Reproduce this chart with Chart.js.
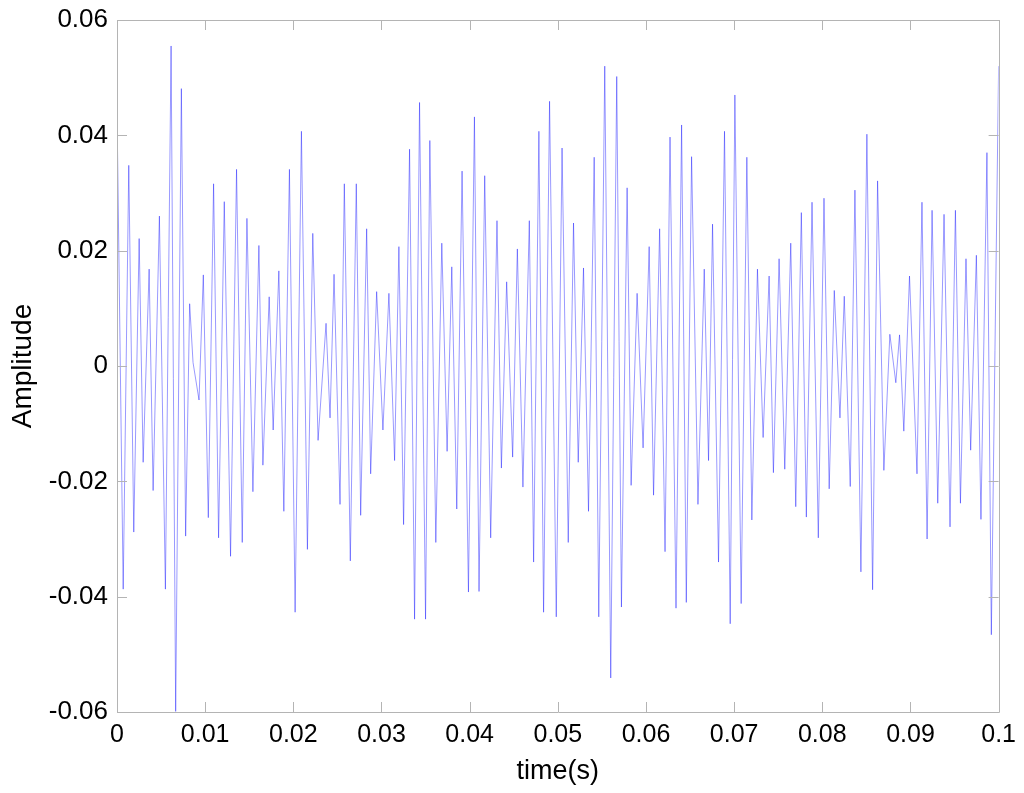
<!DOCTYPE html>
<html>
<head>
<meta charset="utf-8">
<script src="https://cdn.jsdelivr.net/npm/chart.js@4.4.1/dist/chart.umd.min.js"></script>
<style>
    body { margin: 0; background: #fff; }
    #grafico { display: block; }
</style>
</head>
<body>
<canvas id="grafico" width="1024" height="793"></canvas>
<script>
// picos e vales do sinal
var tempo = [
    0, 0.000702, 0.001336, 0.001902, 0.002513, 0.002966, 0.003645, 0.004097, 0.004810, 0.005490,
    0.006135, 0.006655, 0.007301, 0.007787, 0.008240, 0.008625, 0.009304, 0.009791, 0.010357, 0.010956,
    0.011522, 0.012168, 0.012881, 0.013560, 0.014205, 0.014737, 0.015416, 0.016095, 0.016548, 0.017261,
    0.017714, 0.018359, 0.018925, 0.019559, 0.020204, 0.020917, 0.021596, 0.022207, 0.022807, 0.023713,
    0.024165, 0.024618, 0.025297, 0.025784, 0.026463, 0.027142, 0.027640, 0.028319, 0.028772, 0.029451,
    0.030164, 0.030843, 0.031488, 0.031975, 0.032507, 0.033186, 0.033752, 0.034318, 0.034998, 0.035484,
    0.036163, 0.036842, 0.037442, 0.037974, 0.038540, 0.039140, 0.039864, 0.040543, 0.041064, 0.041709,
    0.042388, 0.043101, 0.043599, 0.044199, 0.044878, 0.045410, 0.046044, 0.046768, 0.047255, 0.047855,
    0.048387, 0.049066, 0.049824, 0.050481, 0.051183, 0.051783, 0.052315, 0.052915, 0.053481, 0.054126,
    0.054646, 0.055325, 0.056004, 0.056684, 0.057216, 0.057861, 0.058314, 0.058993, 0.059672, 0.060362,
    0.060860, 0.061551, 0.062162, 0.062728, 0.063407, 0.064041, 0.064573, 0.065173, 0.065897, 0.066610,
    0.067097, 0.067550, 0.068229, 0.068908, 0.069553, 0.070085, 0.070798, 0.071443, 0.072009, 0.072643,
    0.073288, 0.073967, 0.074454, 0.075099, 0.075744, 0.076423, 0.076989, 0.077623, 0.078189, 0.078834,
    0.079547, 0.080192, 0.080781, 0.081358, 0.082004, 0.082490, 0.083169, 0.083701, 0.084380, 0.085059,
    0.085705, 0.086271, 0.086984, 0.087663, 0.088342, 0.088761, 0.089247, 0.089892, 0.090741, 0.091307,
    0.091885, 0.092451, 0.093096, 0.093809, 0.094488, 0.095099, 0.095667, 0.096299, 0.096831, 0.097476,
    0.097996, 0.098676, 0.099174, 0.1
];
var amplitude = [
    0.0444, -0.0387, 0.0348, -0.0288, 0.0221, -0.0167, 0.0168, -0.0216, 0.0260, -0.0387,
    0.0555, -0.0599, 0.0481, -0.0295, 0.0108, 0.0006, -0.0059, 0.0158, -0.0263, 0.0316,
    -0.0298, 0.0285, -0.0330, 0.0341, -0.0306, 0.0256, -0.0218, 0.0209, -0.0172, 0.0120,
    -0.0111, 0.0165, -0.0252, 0.0341, -0.0427, 0.0407, -0.0318, 0.0230, -0.0129, 0.0074,
    -0.0090, 0.0159, -0.0240, 0.0316, -0.0338, 0.0316, -0.0259, 0.0238, -0.0187, 0.0129,
    -0.0111, 0.0126, -0.0164, 0.0207, -0.0275, 0.0376, -0.0439, 0.0457, -0.0439, 0.0391,
    -0.0306, 0.0213, -0.0148, 0.0172, -0.0248, 0.0338, -0.0392, 0.0432, -0.0391, 0.0330,
    -0.0298, 0.0252, -0.0177, 0.0146, -0.0158, 0.0203, -0.0210, 0.0252, -0.0340, 0.0407,
    -0.0427, 0.0459, -0.0435, 0.0378, -0.0306, 0.0248, -0.0167, 0.0170, -0.0252, 0.0362,
    -0.0435, 0.0520, -0.0541, 0.0502, -0.0418, 0.0309, -0.0207, 0.0126, -0.0142, 0.0207,
    -0.0224, 0.0238, -0.0322, 0.0397, -0.0420, 0.0418, -0.0410, 0.0363, -0.0240, 0.0168,
    -0.0164, 0.0246, -0.0340, 0.0407, -0.0447, 0.0470, -0.0412, 0.0362, -0.0267, 0.0168,
    -0.0124, 0.0156, -0.0185, 0.0186, -0.0179, 0.0213, -0.0244, 0.0266, -0.0262, 0.0284,
    -0.0298, 0.0291, -0.0213, 0.0131, -0.0090, 0.0121, -0.0209, 0.0305, -0.0357, 0.0402,
    -0.0388, 0.0321, -0.0181, 0.0055, -0.0029, 0.0054, -0.0113, 0.0156, -0.0187, 0.0284,
    -0.0300, 0.0270, -0.0238, 0.0263, -0.0279, 0.0270, -0.0238, 0.0186, -0.0146, 0.0192,
    -0.0266, 0.0370, -0.0466, 0.0520
];
var ticksX = [0, 0.01, 0.02, 0.03, 0.04, 0.05, 0.06, 0.07, 0.08, 0.09, 0.1];
var ticksY = [-0.06, -0.04, -0.02, 0, 0.02, 0.04, 0.06];

var fonte = '"Liberation Sans", Arial, sans-serif';

function formatar(v) {
    return String(parseFloat(v.toFixed(2)));
}

// caixa estilo matlab com marcas para dentro
var caixa = {
    id: 'caixa',
    afterDraw: function (chart) {
        var ctx = chart.ctx;
        var a = chart.chartArea;
        var sx = chart.scales.x;
        var sy = chart.scales.y;
        ctx.save();
        ctx.strokeStyle = '#b4b4b4';
        ctx.lineWidth = 1;
        ctx.beginPath();
        ctx.rect(Math.round(a.left) + 0.5, Math.round(a.top) + 0.5, Math.round(a.right - a.left), Math.round(a.bottom - a.top));
        ticksX.forEach(function (t) {
            var x = Math.round(sx.getPixelForValue(t)) + 0.5;
            ctx.moveTo(x, a.bottom);
            ctx.lineTo(x, a.bottom - 10);
            ctx.moveTo(x, a.top);
            ctx.lineTo(x, a.top + 10);
        });
        ticksY.forEach(function (t) {
            var y = Math.round(sy.getPixelForValue(t)) + 0.5;
            ctx.moveTo(a.left, y);
            ctx.lineTo(a.left + 10, y);
            ctx.moveTo(a.right, y);
            ctx.lineTo(a.right - 10, y);
        });
        ctx.stroke();
        ctx.restore();
    }
};

var pontos = tempo.map(function (t, i) {
    return { x: t, y: amplitude[i] };
});

var ctx = document.getElementById('grafico').getContext('2d');
var grafico = new Chart(ctx, {
    type: 'line',
    data: {
        datasets: [{
            data: pontos,
            borderColor: 'rgba(0, 0, 255, 0.8)',
            borderWidth: 0.5,
            pointRadius: 0,
            tension: 0,
            fill: false
        }]
    },
    options: {
        responsive: false,
        animation: false,
        devicePixelRatio: 1,
        layout: { padding: { top: 20, right: 24, left: 0, bottom: 0 } },
        plugins: {
            legend: { display: false },
            tooltip: { enabled: false }
        },
        scales: {
            x: {
                type: 'linear',
                min: 0,
                max: 0.1,
                afterBuildTicks: function (scale) {
                    scale.ticks = ticksX.map(function (v) { return { value: v }; });
                },
                afterFit: function (scale) { scale.height = 81; },
                grid: { display: false, drawTicks: false },
                border: { display: false },
                ticks: {
                    padding: 8,
                    color: '#000',
                    maxRotation: 0,
                    autoSkip: false,
                    font: { family: fonte, size: 25 },
                    callback: function (v) { return formatar(v); }
                },
                title: {
                    display: true,
                    text: 'time(s)',
                    color: '#000',
                    padding: { top: 0, bottom: 5 },
                    font: { family: fonte, size: 27 }
                }
            },
            y: {
                type: 'linear',
                min: -0.06,
                max: 0.06,
                afterBuildTicks: function (scale) {
                    scale.ticks = ticksY.map(function (v) { return { value: v }; });
                },
                afterFit: function (scale) {
                    scale.width = 117;
                    // sem folga extra por causa dos rótulos, a área começa em y=20
                    scale.paddingTop = 0;
                    scale.paddingBottom = 0;
                },
                grid: { display: false, drawTicks: false },
                border: { display: false },
                ticks: {
                    padding: 9,
                    color: '#000',
                    autoSkip: false,
                    font: { family: fonte, size: 26 },
                    callback: function (v) { return formatar(v); }
                },
                title: {
                    display: true,
                    text: 'Amplitude',
                    color: '#000',
                    padding: { top: 6, bottom: 0 },
                    font: { family: fonte, size: 28 }
                }
            }
        }
    },
    plugins: [caixa]
});
</script>
</body>
</html>
